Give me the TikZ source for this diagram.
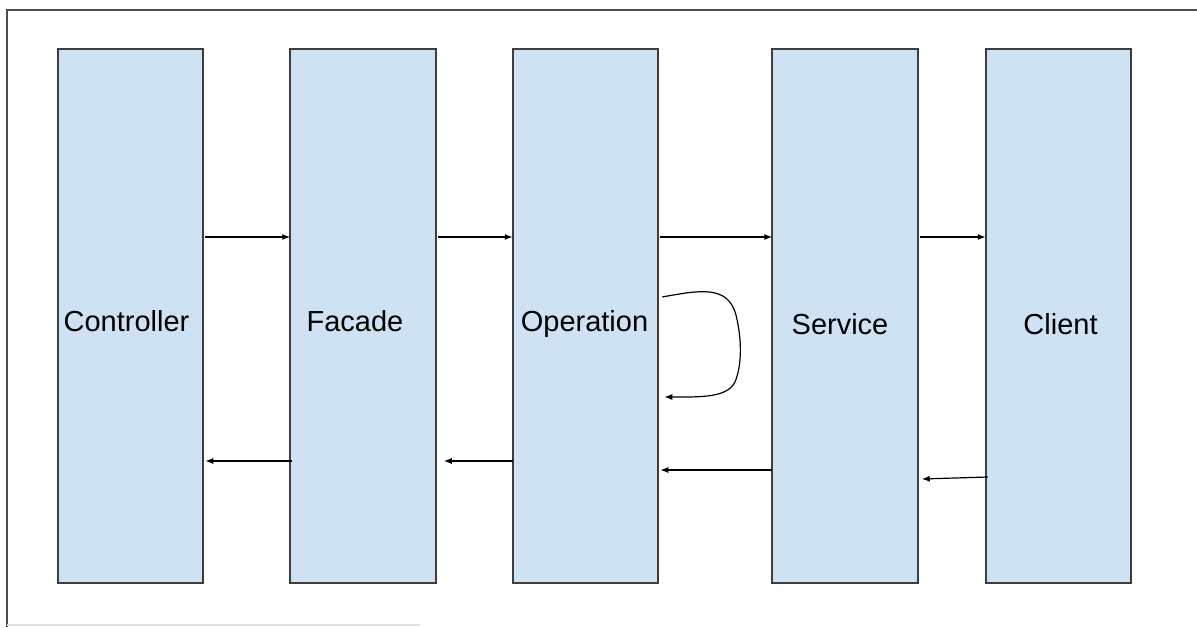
\documentclass[tikz,border=0pt]{standalone}
\usepackage{fontspec}
\setmainfont{Liberation Sans}
\usepackage{tikz}
\usetikzlibrary{arrows.meta, positioning, calc}
\definecolor{layerfill}{HTML}{CFE2F3}
\definecolor{layerline}{HTML}{3D3D3D}
\tikzset{%
	layer/.style={draw=layerline, line width=1.6pt, fill=layerfill, rectangle,%
		minimum width=145.5pt, minimum height=534pt, inner sep=0pt, outer sep=0pt},
	lbl/.style={text height=30pt, text depth=0pt, inner sep=0pt,%
		font=\fontsize{29}{34}\selectfont},
	call/.style={-{Latex[length=8pt, width=6pt]}, line width=1.2pt},
	frame/.style={line width=1.6pt, draw=black!70}
}

\begin{document}
\begin{tikzpicture}[x=1pt, y=-1pt]
	\useasboundingbox (0,0) rectangle (1197,627);
	\draw[frame] (7,627) -- (7,10) -- (1197,10);
	\draw[line width=1.2pt, black!12] (7,625) -- (420,625);

	\node[layer, label={[lbl, xshift=-4pt]center:Controller}] (ctrl) at (130.5,316) {};
	\node[layer, right=87pt of ctrl, label={[lbl, xshift=-8pt]center:Facade}] (fac) {};
	\node[layer, right=77pt of fac, label={[lbl, xshift=-1pt]center:Operation}] (op) {};
	\node[layer, right=114pt of op, label={[lbl, xshift=-5pt, yshift=-3pt]center:Service}] (svc) {};
	\node[layer, right=68pt of svc, label={[lbl, xshift=2pt, yshift=-3pt]center:Client}] (cli) {};

	% forward calls
	\draw[call] ([yshift=79pt, xshift=2pt]ctrl.east) -- ([yshift=79pt]fac.west);
	\draw[call] ([yshift=79pt, xshift=2pt]fac.east) -- ([yshift=79pt]op.west);
	\draw[call] ([yshift=79pt, xshift=2pt]op.east) -- ([yshift=79pt]svc.west);
	\draw[call] ([yshift=79pt, xshift=2pt]svc.east) -- ([yshift=79pt]cli.west);

	% returns
	\draw[call] ([yshift=-145pt, xshift=2pt]fac.west) -- ([yshift=-145pt, xshift=2pt]ctrl.east);
	\draw[call] ([yshift=-145pt]op.west) -- ([yshift=-145pt, xshift=8pt]fac.east);
	\draw[call] ([yshift=-154pt]svc.west) -- ([yshift=-154pt, xshift=2pt]op.east);
	\draw[call] ([yshift=-161pt, xshift=2pt]cli.west) -- ([yshift=-163pt, xshift=4pt]svc.east);

	% self call
	\draw[call] ([yshift=19pt, xshift=4pt]op.east)
		.. controls (700,290) and (728,285) .. (736,315)
		.. controls (742,340) and (742,365) .. (735,382)
		.. controls (727,398) and (700,397) .. ([yshift=-81pt, xshift=6pt]op.east);
\end{tikzpicture}
\end{document}
